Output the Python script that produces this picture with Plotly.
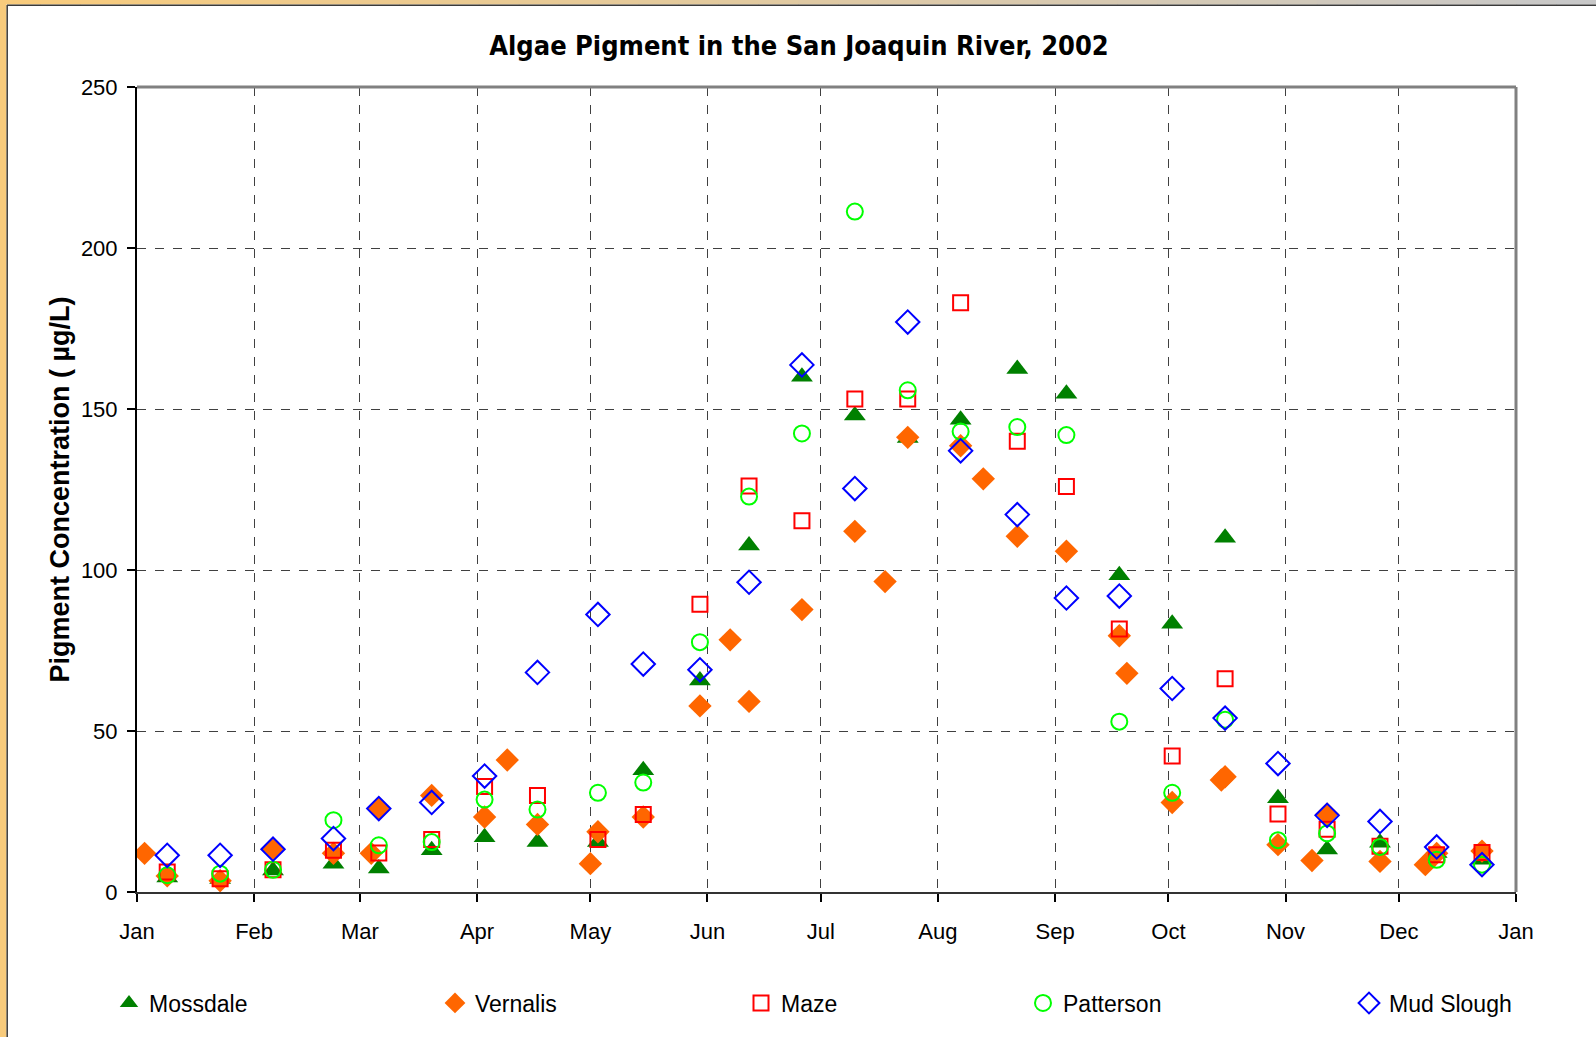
import plotly.graph_objects as go

# ---------------- data ----------------
mossdale_dates = ["2002-01-09", "2002-01-23", "2002-02-06", "2002-02-22", "2002-03-06", "2002-03-20",
                  "2002-04-03", "2002-04-17", "2002-05-03", "2002-05-15", "2002-05-30", "2002-06-12",
                  "2002-06-26", "2002-07-10", "2002-07-24", "2002-08-07", "2002-08-22", "2002-09-04",
                  "2002-09-18", "2002-10-02", "2002-10-16", "2002-10-30", "2002-11-12", "2002-11-26",
                  "2002-12-11", "2002-12-23"]
mossdale_vals = [4.5, 4.0, 6.7, 8.8, 7.3, 13.0, 17.0, 15.5, 15.5, 37.8, 65.7, 107.6,
                 160.0, 148.0, 141.0, 146.7, 162.4, 154.7, 98.4, 83.3, 110.0, 29.1, 13.2, 15.3,
                 12.1, 10.0]

vernalis_dates = ["2002-01-03", "2002-01-09", "2002-01-23", "2002-02-06", "2002-02-22", "2002-03-04",
                  "2002-03-06", "2002-03-20", "2002-04-03", "2002-04-09", "2002-04-17", "2002-05-01",
                  "2002-05-03", "2002-05-15", "2002-05-30", "2002-06-07", "2002-06-12", "2002-06-26",
                  "2002-07-10", "2002-07-18", "2002-07-24", "2002-08-07", "2002-08-13", "2002-08-22",
                  "2002-09-04", "2002-09-18", "2002-09-20", "2002-10-02", "2002-10-15", "2002-10-16",
                  "2002-10-30", "2002-11-08", "2002-11-12", "2002-11-26", "2002-12-08", "2002-12-11",
                  "2002-12-23"]
vernalis_vals = [12.0, 5.0, 3.5, 13.5, 12.0, 12.0,
                 26.0, 30.0, 23.3, 41.0, 21.0, 8.8,
                 18.7, 23.3, 57.8, 78.3, 59.2, 87.7,
                 112.0, 96.4, 141.2, 138.6, 128.3, 110.5,
                 105.8, 79.6, 67.9, 27.8, 34.8, 35.8,
                 14.7, 9.8, 24.2, 9.5, 8.5, 12.0,
                 12.7]

maze_dates = mossdale_dates
maze_vals = [6.2, 4.1, 6.9, 13.0, 12.1, 16.3, 32.8, 30.0, 16.3, 24.1, 89.4, 126.1,
             115.3, 153.1, 153.1, 183.0, 140.0, 125.9, 81.7, 42.2, 66.2, 24.2, 19.5, 14.2,
             11.6, 12.3]

patterson_dates = mossdale_dates
patterson_vals = [5.2, 5.7, 6.9, 22.3, 14.5, 15.5, 28.7, 25.6, 30.8, 34.0, 77.6, 122.8,
                  142.4, 211.3, 155.8, 143.0, 144.4, 141.9, 52.9, 30.8, 53.5, 16.1, 18.2, 14.0,
                  10.0, 8.5]

mudslough_dates = mossdale_dates
mudslough_vals = [11.4, 11.4, 13.3, 16.6, 25.9, 27.8, 36.0, 68.2, 86.2, 70.8, 69.0, 96.2,
                  163.7, 125.3, 177.0, 137.0, 117.2, 91.3, 91.9, 63.2, 54.0, 39.9, 23.8, 21.9,
                  14.0, 8.5]

series_names = ["Mossdale", "Vernalis", "Maze", "Patterson", "Mud Slough"]
month_labels = ["Jan", "Feb", "Mar", "Apr", "May", "Jun", "Jul", "Aug", "Sep", "Oct", "Nov", "Dec", "Jan"]
month_ticks = ["2002-%02d-01" % m for m in range(1, 13)] + ["2003-01-01"]

# ---------------- layout geometry (pixels) ----------------
W, H = 1596, 1037
ML, MR, MT, MB = 137, 80, 87, 145
PW, PH = W - ML - MR, H - MT - MB


def px(x):
    return (x - ML) / PW


def py(y):
    return (H - MB - y) / PH


styles = [
    dict(symbol="triangle-up", color="#008000", size=19, line=dict(width=0)),
    dict(symbol="diamond", color="#FF6600", size=18, line=dict(width=0)),
    dict(symbol="square-open", color="#FF0000", size=15, line=dict(width=2, color="#FF0000")),
    dict(symbol="circle-open", color="#00FF00", size=16, line=dict(width=2, color="#00FF00")),
    dict(symbol="diamond-open", color="#0000FF", size=18, line=dict(width=2, color="#0000FF")),
]
data = [(mossdale_dates, mossdale_vals), (vernalis_dates, vernalis_vals), (maze_dates, maze_vals),
        (patterson_dates, patterson_vals), (mudslough_dates, mudslough_vals)]
legend_ids = ["legend", "legend2", "legend3", "legend4", "legend5"]
legend_sym_x = [130, 456, 762, 1044, 1370]

fig = go.Figure()
for name, (xs, ys), st, lid in zip(series_names, data, styles, legend_ids):
    fig.add_trace(go.Scatter(x=xs, y=ys, mode="markers", name=name, marker=st,
                             legend=lid, showlegend=True))

axis_font = dict(family="Liberation Sans, Arial, sans-serif", size=22, color="#000000")

legend_layouts = {}
for lid, sx in zip(legend_ids, legend_sym_x):
    legend_layouts[lid] = dict(
        x=px(sx - 21), xanchor="left", xref="paper",
        y=py(1003), yanchor="middle", yref="paper",
        bgcolor="rgba(0,0,0,0)", borderwidth=0,
        font=dict(family="Liberation Sans, Arial, sans-serif", size=23, color="#000000"),
    )

shapes = []
# plot frame top & right (gray)
shapes.append(dict(type="line", xref="paper", yref="paper", x0=0, x1=1, y0=1, y1=1,
                   line=dict(color="#808080", width=3)))
shapes.append(dict(type="line", xref="paper", yref="paper", x0=1, x1=1, y0=0, y1=1,
                   line=dict(color="#808080", width=3)))
# outer window frame: left orange strip
shapes.append(dict(type="rect", xref="paper", yref="paper", x0=px(0), x1=px(6.5), y0=py(H), y1=py(0),
                   fillcolor="#F8CB7C", line=dict(width=0), layer="above"))
shapes.append(dict(type="line", xref="paper", yref="paper", x0=px(7.2), x1=px(7.2), y0=py(H), y1=py(5),
                   line=dict(color="#3A3A3A", width=1.5), layer="above"))
# top gradient strip orange -> gray
nseg = 40
c0 = (248, 203, 124)
c1 = (200, 200, 200)
for i in range(nseg):
    t = i / (nseg - 1)
    c = tuple(int(round(c0[k] + (c1[k] - c0[k]) * t)) for k in range(3))
    shapes.append(dict(type="rect", xref="paper", yref="paper",
                       x0=px(W * i / nseg), x1=px(W * (i + 1) / nseg + 1), y0=py(4.5), y1=py(0),
                       fillcolor="rgb(%d,%d,%d)" % c, line=dict(width=0), layer="above"))
shapes.append(dict(type="line", xref="paper", yref="paper", x0=px(7), x1=px(W), y0=py(5.3), y1=py(5.3),
                   line=dict(color="#3A3A3A", width=1.5), layer="above"))

fig.update_layout(
    width=W, height=H,
    margin=dict(l=ML, r=MR, t=MT, b=MB, pad=0),
    paper_bgcolor="#FFFFFF", plot_bgcolor="#FFFFFF",
    title=dict(text="<b>Algae Pigment in the San Joaquin River, 2002</b>",
               x=px(799), xanchor="center", xref="paper",
               y=1 - 46 / H, yanchor="middle", yref="container",
               font=dict(family="Liberation Sans Narrow, DejaVu Sans Condensed, Arial Narrow, sans-serif",
                         size=27, color="#000000")),
    xaxis=dict(type="date", range=["2002-01-01", "2003-01-01"],
               tickmode="array", tickvals=month_ticks, ticktext=month_labels,
               ticks="outside", ticklen=8, tickwidth=1.5, tickcolor="#000000",
               showline=True, linecolor="#333333", linewidth=2,
               showgrid=True, gridcolor="#404040", griddash="dash", gridwidth=1,
               zeroline=False, tickfont=axis_font, ticklabelstandoff=11),
    yaxis=dict(range=[0, 250], tickmode="array", tickvals=[0, 50, 100, 150, 200, 250],
               ticks="outside", ticklen=8, tickwidth=1.5, tickcolor="#000000",
               showline=True, linecolor="#000000", linewidth=2,
               showgrid=True, gridcolor="#404040", griddash="dash", gridwidth=1,
               zeroline=False, tickfont=axis_font, ticklabelstandoff=5),
    annotations=[dict(text="<b>Pigment Concentration ( µg/L)</b>", textangle=-90,
                      x=px(59), y=0.5, xref="paper", yref="paper",
                      xanchor="center", yanchor="middle", showarrow=False,
                      font=dict(family="Liberation Sans, Arial, sans-serif", size=27, color="#000000"))],
    shapes=shapes,
    **legend_layouts,
)

fig.write_html("out.html", config={"displayModeBar": False},
               post_script="document.body.style.margin='0';document.body.style.overflow='hidden';")
